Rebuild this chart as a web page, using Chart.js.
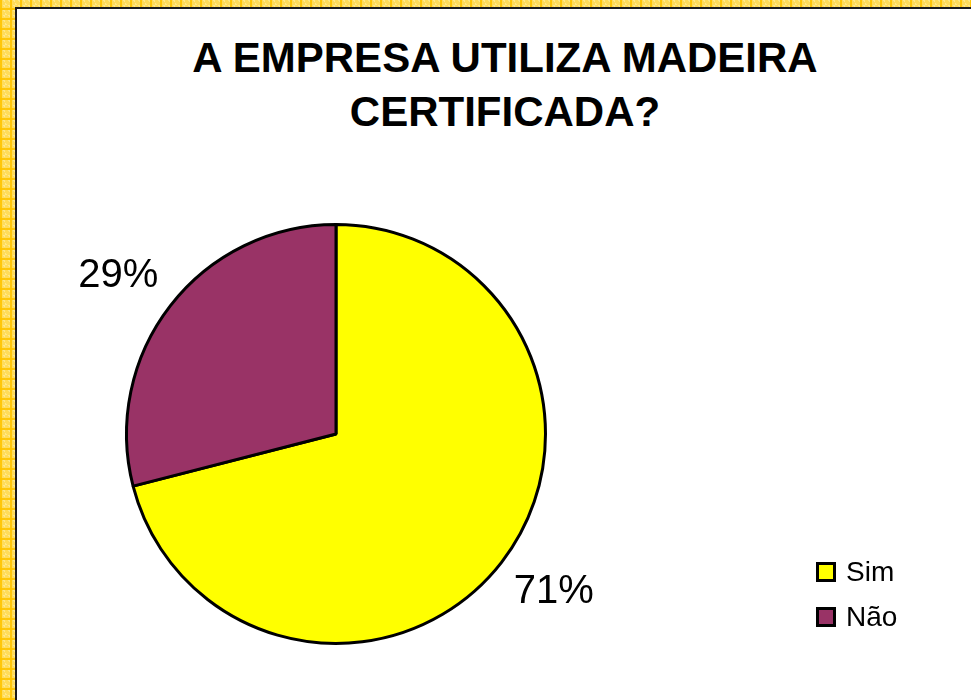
<!DOCTYPE html>
<html>
<head>
<meta charset="utf-8">
<script src="https://cdn.jsdelivr.net/npm/chart.js@4"></script>
<style>
  html, body { margin: 0; padding: 0; }
  body {
    width: 971px; height: 700px; overflow: hidden; position: relative;
    background-color: #ffdc5a;
    background-image:
      linear-gradient(90deg, rgba(255,196,0,0.9) 2px, transparent 2px),
      linear-gradient(0deg, rgba(255,196,0,0.9) 2px, transparent 2px),
      linear-gradient(45deg, rgba(255,240,170,0.6) 25%, transparent 25%, transparent 75%, rgba(255,240,170,0.6) 75%);
    background-size: 10px 10px, 10px 10px, 5px 5px;
    font-family: "Liberation Sans", Arial, sans-serif;
  }
  #sheet {
    position: absolute; left: 15px; top: 7px; right: -10px; bottom: -10px;
    background: #fff;
    border-left: 2px solid #1a1a1a; border-top: 2px solid #1a1a1a;
  }
  #title {
    position: absolute; left: 0; width: 1010px; top: 31px;
    text-align: center; font-weight: bold; font-size: 42px; line-height: 54px; color: #000;
  }
  #chartBox { position: absolute; left: 0; top: 0; width: 971px; height: 700px; }
  #legend { position: absolute; left: 816px; top: 549px; }
  .item { display: flex; align-items: center; height: 45px; font-size: 28px; color: #000; }
  .box { width: 14px; height: 14px; border: 3px solid #000; margin-right: 10px; }
</style>
</head>
<body>
<div id="sheet"></div>
<div id="title">A EMPRESA UTILIZA MADEIRA<br>CERTIFICADA?</div>
<div id="chartBox"><canvas id="pie"></canvas></div>
<div id="legend"></div>
<script>
const labels = ['Sim', 'Não'];
const values = [71, 29];
const colors = ['#ffff00', '#993366'];

// outside percent labels
const outsideLabels = {
  id: 'outsideLabels',
  afterDatasetsDraw(chart) {
    const ctx = chart.ctx;
    const meta = chart.getDatasetMeta(0);
    const total = values.reduce((a, b) => a + b, 0);
    ctx.save();
    ctx.font = '40px "Liberation Sans", Arial, sans-serif';
    ctx.fillStyle = '#000';
    ctx.textAlign = 'center';
    ctx.textBaseline = 'middle';
    meta.data.forEach((arc, i) => {
      const mid = (arc.startAngle + arc.endAngle) / 2;
      const x = arc.x + Math.cos(mid) * (arc.outerRadius + 66);
      const y = arc.y + Math.sin(mid) * (arc.outerRadius + 48);
      ctx.fillText(Math.round(values[i] / total * 100) + '%', x, y);
    });
    ctx.restore();
  }
};

new Chart(document.getElementById('pie'), {
  type: 'pie',
  data: {
    labels: labels,
    datasets: [{
      data: values,
      backgroundColor: colors,
      borderColor: '#000',
      borderWidth: 3
    }]
  },
  options: {
    responsive: true,
    maintainAspectRatio: false,
    animation: false,
    layout: { padding: { left: 125, top: 223, right: 424, bottom: 55 } },
    plugins: {
      legend: { display: false },
      title: { display: false },
      tooltip: { enabled: false }
    }
  },
  plugins: [outsideLabels]
});

const legend = document.getElementById('legend');
labels.forEach((l, i) => {
  const item = document.createElement('div');
  item.className = 'item';
  item.innerHTML = '<span class="box" style="background:' + colors[i] + '"></span>' + l;
  legend.appendChild(item);
});
</script>
</body>
</html>
